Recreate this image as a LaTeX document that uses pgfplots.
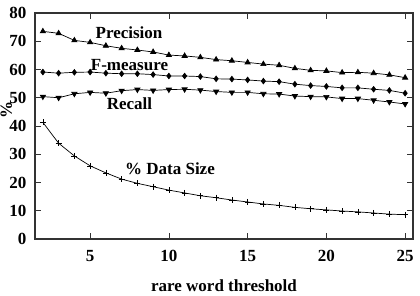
\documentclass[border=0pt]{standalone}
\usepackage{pgfplots}
\pgfplotsset{compat=1.18}
\usepackage{fontspec}
\setmainfont{Liberation Serif}
\begin{document}
\begin{tikzpicture}
\begin{axis}[
  name=ax,
  scale only axis, width=378pt, height=226pt,
  xmin=1.5, xmax=25.5, ymin=0, ymax=80,
  xtick={5,10,15,20,25}, ytick={0,10,...,80},
  tick align=inside, major tick length=6pt,
  axis line style={line width=1.1pt, black!80},
  tick style={line width=0.7pt, black!80},
  font=\fontsize{17}{20}\selectfont\bfseries,
  /pgf/number format/assume math mode=true,
  xticklabel style={yshift=-8pt},
  yticklabel style={xshift=-5pt},
  xlabel={rare word threshold},
  ylabel={\%},
  xlabel style={at={(axis description cs:0.5,0)}, anchor=base, yshift=-53pt},
  ylabel style={at={(axis description cs:-0.076,0.571)}, anchor=center},
  every axis plot/.append style={black, line width=0.7pt},
]
\addplot[mark=triangle*, mark size=3pt] coordinates {
(2,73.5)(3,72.8)(4,70.3)(5,69.6)(6,68.4)(7,67.5)(8,66.9)(9,66.2)(10,65.1)(11,64.8)(12,64.3)
(13,63.5)(14,63.1)(15,62.5)(16,61.9)(17,61.5)(18,60.4)(19,59.7)(20,59.5)(21,58.9)(22,59.0)(23,58.7)(24,58.1)(25,57.1)};
\addplot[mark=diamond*, mark size=2.8pt] coordinates {
(2,59.1)(3,58.7)(4,59.0)(5,59.1)(6,58.7)(7,58.5)(8,58.5)(9,58.2)(10,57.7)(11,57.7)(12,57.5)
(13,56.7)(14,56.6)(15,56.3)(16,55.9)(17,55.7)(18,54.8)(19,54.3)(20,54.0)(21,53.5)(22,53.5)(23,53.0)(24,52.6)(25,51.6)};
\addplot[mark=triangle*, mark size=3pt, mark options={rotate=180}] coordinates {
(2,50.4)(3,50.0)(4,51.4)(5,51.9)(6,51.6)(7,52.5)(8,52.9)(9,52.6)(10,52.9)(11,53.0)(12,52.7)
(13,52.2)(14,51.9)(15,51.9)(16,51.4)(17,51.3)(18,50.6)(19,50.4)(20,50.3)(21,49.7)(22,49.7)(23,49.1)(24,48.5)(25,47.8)};
\addplot[mark=+, mark size=3pt, mark options={line width=0.6pt}] coordinates {
(2,41.3)(3,33.9)(4,29.4)(5,25.9)(6,23.4)(7,21.2)(8,19.7)(9,18.5)(10,17.3)(11,16.3)(12,15.3)
(13,14.6)(14,13.8)(15,13.1)(16,12.4)(17,11.9)(18,11.2)(19,10.7)(20,10.3)(21,9.9)(22,9.6)(23,9.2)(24,8.8)(25,8.6)};
\node at (axis cs:7.47,72.9) {Precision};
\node at (axis cs:7.5,61.6) {F-measure};
\node at (axis cs:7.5,47.8) {Recall};
\node at (axis cs:10.07,24.8) {\% Data Size};
\end{axis}
\pgfresetboundingbox
\path ([shift={(-35pt,-57pt)}]ax.south west) rectangle ([shift={(7pt,13pt)}]ax.north east);
\end{tikzpicture}
\end{document}
